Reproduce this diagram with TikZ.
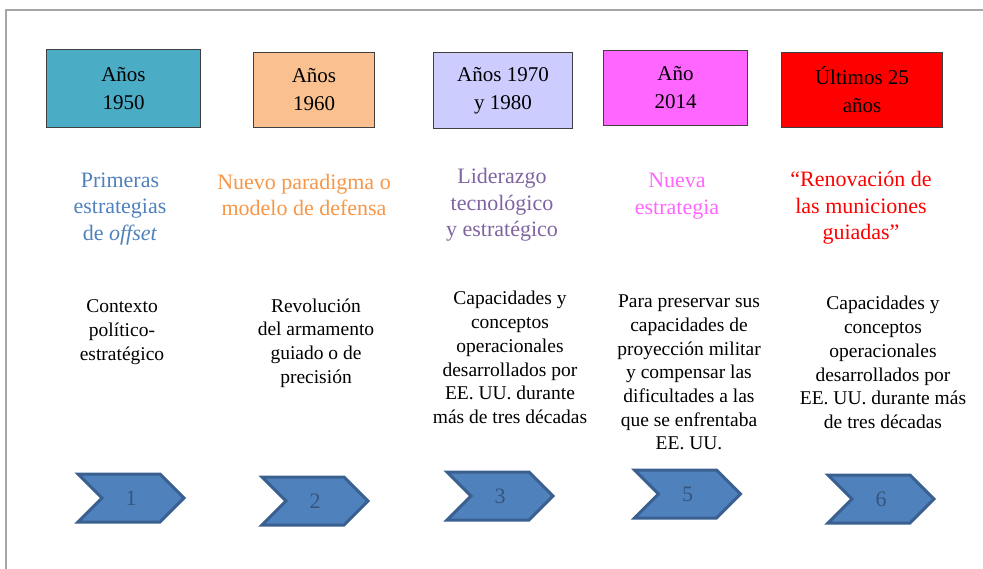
\documentclass[tikz,border=0pt]{standalone}
\usepackage{fontspec}
\setmainfont{Liberation Serif}
\newfontfamily\timesfont{Liberation Serif}
\usetikzlibrary{shapes.symbols}

\definecolor{tealbox}{HTML}{4BACC6}
\definecolor{peachbox}{HTML}{FAC090}
\definecolor{lilacbox}{HTML}{CCCCFF}
\definecolor{pinkbox}{HTML}{FF66FF}
\definecolor{redbox}{HTML}{FF0000}
\definecolor{bluetxt}{HTML}{4F81BD}
\definecolor{orangetxt}{HTML}{F79646}
\definecolor{purpletxt}{HTML}{8064A2}
\definecolor{chevfill}{HTML}{4F81BD}
\definecolor{chevline}{HTML}{3A6090}
\definecolor{chevnum}{HTML}{35557F}

\tikzset{
  yearbox/.style={draw=black!75, line width=1.2pt, align=center, inner sep=0pt,
    font=\timesfont\fontsize{21}{28}\selectfont},
  headtxt/.style={align=center, inner sep=0pt, font=\timesfont\fontsize{22}{26.5}\selectfont},
  desctxt/.style={align=center, inner sep=0pt, font=\timesfont\fontsize{19.5}{23.7}\selectfont},
  chevron/.style={signal, signal to=east, signal from=west, fill=chevfill,
    draw=chevline, line width=3pt, minimum width=106pt, minimum height=48pt,
    inner sep=0pt, text=chevnum, font=\timesfont\fontsize{22}{26}\selectfont}
}

\begin{document}
\begin{tikzpicture}[x=1pt, y=-1pt]
  \useasboundingbox (0,0) rectangle (983,569);
  % frame
  \draw [black!35, line width=1.5pt] (6,569) -- (6,10) -- (983,10);

  % years
  \node [yearbox, fill=tealbox, minimum width=154pt, minimum height=78pt] (y1950) at (123.5,88.5) {Años\\1950};
  \node [yearbox, fill=peachbox, minimum width=121pt, minimum height=75pt] (y1960) at (314,90) {Años\\1960};
  \node [yearbox, fill=lilacbox, minimum width=139pt, minimum height=76pt] (y1970) at (503,90.5) {Años 1970\\y 1980};
  \node [yearbox, fill=pinkbox, minimum width=144pt, minimum height=75pt] (y2014) at (675.5,88) {Año\\2014};
  \node [yearbox, fill=redbox, minimum width=161pt, minimum height=75pt] (y25) at (862,90) {Últimos 25\\años};

  % headings
  \node [headtxt, text=bluetxt] (h1950) at (120,209) {Primeras\\estrategias\\de \textit{offset}};
  \node [headtxt, text=orangetxt] (h1960) at (304,195) {Nuevo paradigma o\\modelo de defensa};
  \node [headtxt, text=purpletxt] (h1970) at (502,205) {Liderazgo\\tecnológico\\y estratégico};
  \node [headtxt, text=pinkbox] (h2014) at (677,196) {Nueva\\estrategia};
  \node [headtxt, text=redbox] (h25) at (861,208) {“Renovación de\\las municiones\\guiadas”};

  % descriptions
  \node [desctxt] (d1950) at (122,332) {Contexto\\político-\\estratégico};
  \node [desctxt] (d1960) at (316,343) {Revolución\\del armamento\\guiado o de\\precisión};
  \node [desctxt] (d1970) at (510,357.5) {Capacidades y\\conceptos\\operacionales\\desarrollados por\\EE. UU. durante\\más de tres décadas};
  \node [desctxt] (d2014) at (689,372.5) {Para preservar sus\\capacidades de\\proyección militar\\y compensar las\\dificultades a las\\que se enfrentaba\\EE. UU.};
  \node [desctxt] (d25) at (883,362.5) {Capacidades y\\conceptos\\operacionales\\desarrollados por\\EE. UU. durante más\\de tres décadas};

  % steps
  \node [chevron] (s1) at (131,498) {1};
  \node [chevron] (s2) at (315,501) {2};
  \node [chevron] (s3) at (500,496) {3};
  \node [chevron] (s5) at (687.5,494) {5};
  \node [chevron] (s6) at (881,499) {6};
\end{tikzpicture}
\end{document}
